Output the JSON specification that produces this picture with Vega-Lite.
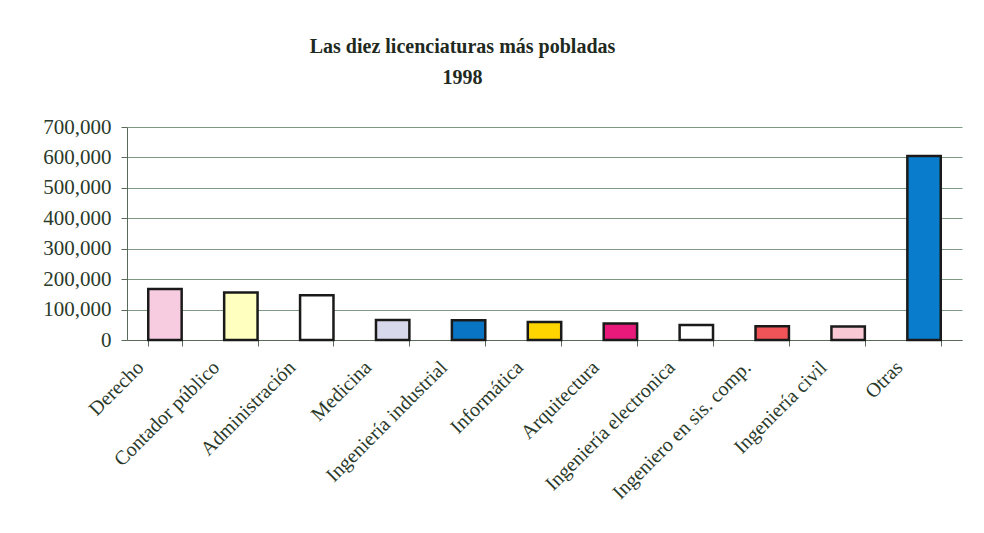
{
  "$schema": "https://vega.github.io/schema/vega-lite/v6.json",
  "width": 835,
  "height": 213,
  "autosize": "none",
  "padding": {"left": 127, "top": 127, "right": 22, "bottom": 193},
  "background": "white",
  "title": {
    "text": ["Las diez licenciaturas más pobladas", "1998"],
    "font": "Liberation Serif",
    "fontSize": 20,
    "fontWeight": "bold",
    "color": "#1f2a1f",
    "lineHeight": 31,
    "anchor": "middle",
    "dx": -82,
    "offset": 28
  },
  "data": {
    "values": [
      {"carrera": "Derecho", "alumnos": 168000, "color": "#f8cce0"},
      {"carrera": "Contador público", "alumnos": 156000, "color": "#ffffc0"},
      {"carrera": "Administración", "alumnos": 147000, "color": "#ffffff"},
      {"carrera": "Medicina", "alumnos": 66000, "color": "#d8d8ec"},
      {"carrera": "Ingeniería industrial", "alumnos": 65000, "color": "#0a74c4"},
      {"carrera": "Informática", "alumnos": 59000, "color": "#ffd500"},
      {"carrera": "Arquitectura", "alumnos": 54000, "color": "#e8197a"},
      {"carrera": "Ingeniería electronica", "alumnos": 49000, "color": "#ffffff"},
      {"carrera": "Ingeniero en sis. comp.", "alumnos": 45000, "color": "#f05458"},
      {"carrera": "Ingeniería civil", "alumnos": 44000, "color": "#f8c8d4"},
      {"carrera": "Otras", "alumnos": 605000, "color": "#0a7ccc"}
    ]
  },
  "mark": {"type": "bar", "stroke": "#1a1a1a", "strokeWidth": 2.5},
  "encoding": {
    "x": {
      "field": "carrera",
      "type": "nominal",
      "sort": null,
      "title": null,
      "scale": {"paddingInner": 0.56, "paddingOuter": 0.28},
      "axis": {
        "labelAngle": -45,
        "labelAlign": "right",
        "labelBaseline": "middle",
        "labelFont": "Liberation Serif",
        "labelFontSize": 20,
        "labelColor": "#2a3a2a",
        "labelPadding": 18,
        "labelOffset": -25,
        "tickBand": "extent",
        "tickSize": 6,
        "tickColor": "#5a6a5a",
        "domainColor": "#5a6a5a",
        "labelLimit": 400
      }
    },
    "y": {
      "field": "alumnos",
      "type": "quantitative",
      "title": null,
      "scale": {"domain": [0, 700000]},
      "axis": {
        "values": [0, 100000, 200000, 300000, 400000, 500000, 600000, 700000],
        "format": ",d",
        "labelFont": "Liberation Serif",
        "labelFontSize": 21,
        "labelColor": "#2a3a2a",
        "labelPadding": 10,
        "tickSize": 6,
        "tickColor": "#5a6a5a",
        "domainColor": "#5a6a5a",
        "gridColor": "#7f9a82",
        "gridWidth": 1.2
      }
    },
    "fill": {"field": "color", "type": "nominal", "scale": null}
  },
  "config": {"view": {"stroke": null}}
}
